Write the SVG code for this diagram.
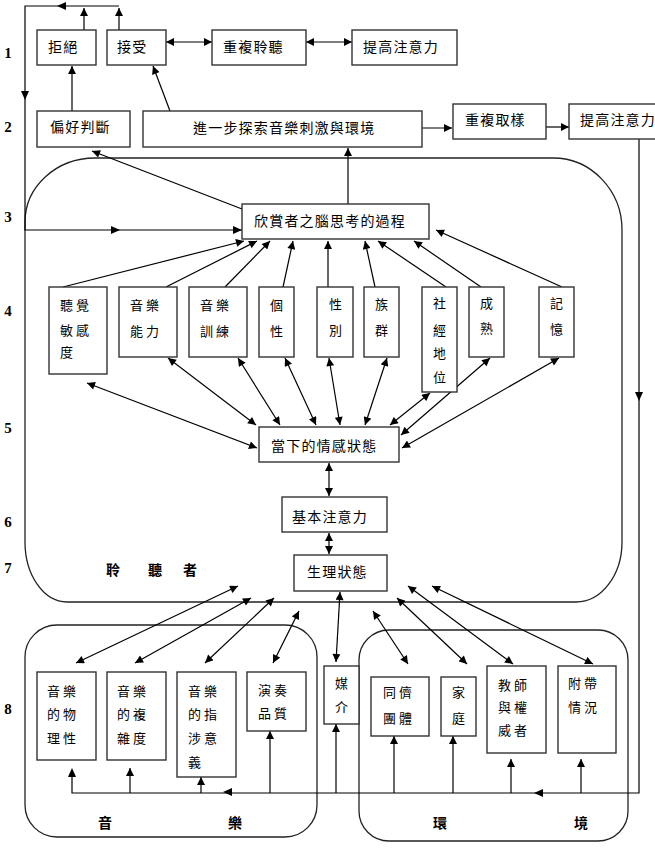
<svg xmlns="http://www.w3.org/2000/svg" width="655" height="849" viewBox="0 0 655 849">
<defs>
<marker id="ah" viewBox="0 0 10 10" refX="10" refY="5" markerWidth="9" markerHeight="8" markerUnits="userSpaceOnUse" orient="auto-start-reverse"><path d="M0,0 L10,5 L0,10 z" fill="#000"/></marker>
<style>
.b{fill:#fff;stroke:#333;stroke-width:1.4}
.g{fill:none;stroke:#222;stroke-width:1.3}
.c{fill:none;stroke:#000;stroke-width:1.2}
.a{marker-end:url(#ah)}
.d{marker-start:url(#ah);marker-end:url(#ah)}
text{font-family:'Noto Sans CJK TC','Noto Sans CJK SC',sans-serif;fill:#000}
.t{font-size:14px;letter-spacing:1.2px}
.s{font-size:13px;letter-spacing:3px}
.m{text-anchor:middle}
.n{font-family:'Liberation Serif',serif;font-weight:bold;font-size:15px;text-anchor:middle}
.L{font-size:14px;font-weight:bold;text-anchor:middle}
</style>
</defs>
<rect width="655" height="849" fill="#fff"/>

<g id="groups">
<path class="g" d="M95,158 H553 A69,72 0 0 1 622,230 V542 A46,60 0 0 1 576,602 H67 A42,60 0 0 1 25,542 V222 A70,64 0 0 1 95,158 Z"/>
<rect class="g" x="25" y="625" width="292" height="212" rx="32" ry="32"/>
<rect class="g" x="359" y="630" width="269" height="211" rx="30" ry="30"/>
</g>

<g id="connectors">
<!-- top feedback -->
<path class="c a" d="M84,30 V8"/>
<path class="c a" d="M119,30 V8"/>
<path class="c" d="M119,6 H25 V230 H242"/>
<polygon points="57,6 66,2 66,10" fill="#000"/>
<polygon points="25,100 21,91 29,91" fill="#000"/>
<polygon points="120,230 111,226 111,234" fill="#000"/>
<polygon points="242,230 233,226 233,234" fill="#000"/>
<path class="c d" d="M166,42 H212"/>
<path class="c d" d="M306,42 H352"/>
<path class="c a" d="M72,111 V66"/>
<path class="c a" d="M170,111 L153,66"/>
<path class="c a" d="M417,128 H452"/>
<path class="c a" d="M546,127 H569"/>
<path class="c a" d="M348,204 V148"/>
<path class="c a" d="M242,209 L92,151"/>
<!-- right feedback -->
<path class="c" d="M639,139 V793 H72 V770"/>
<polygon points="72,768 68,777 76,777" fill="#000"/>
<polygon points="639,401 635,392 643,392" fill="#000"/>
<polygon points="223,792 232,788 232,796" fill="#000"/>
<polygon points="534,793 543,789 543,797" fill="#000"/>
<path class="c a" d="M130,793 V768"/>
<path class="c a" d="M201,793 V777"/>
<path class="c a" d="M270,793 V731"/>
<path class="c a" d="M336,793 V724"/>
<path class="c a" d="M394,793 V736"/>
<path class="c a" d="M453,793 V736"/>
<path class="c a" d="M511,793 V759"/>
<path class="c a" d="M581,793 V759"/>
<!-- level 4 to brain -->
<path class="c a" d="M63,287 L244,241"/>
<path class="c a" d="M166,287 L257,241"/>
<path class="c a" d="M225,287 L270,241"/>
<path class="c a" d="M283,287 L293,241"/>
<path class="c a" d="M328,287 V241"/>
<path class="c a" d="M375,287 L365,241"/>
<path class="c a" d="M446,287 L378,241"/>
<path class="c a" d="M481,287 L414,241"/>
<path class="c a" d="M562,287 L436,230"/>
<!-- level 4 to affect -->
<path class="c d" d="M87,383 L257,448"/>
<path class="c d" d="M168,358 L256,425"/>
<path class="c d" d="M238,358 L280,425"/>
<path class="c d" d="M285,358 L316,425"/>
<path class="c d" d="M329,358 L340,425"/>
<path class="c d" d="M387,358 L365,425"/>
<path class="c d" d="M430,393 L390,425"/>
<path class="c d" d="M490,358 L401,435"/>
<path class="c d" d="M559,358 L402,448"/>
<path class="c d" d="M329,463 V496"/>
<path class="c d" d="M329,533 V554"/>
<!-- physiological to level 8 -->
<path class="c d" d="M238,586 L76,663"/>
<path class="c d" d="M251,598 L135,663"/>
<path class="c d" d="M274,598 L205,663"/>
<path class="c d" d="M299,611 L273,663"/>
<path class="c d" d="M340,592 L336,662"/>
<path class="c d" d="M373,611 L408,664"/>
<path class="c d" d="M397,598 L467,664"/>
<path class="c d" d="M408,586 L513,664"/>
<path class="c d" d="M432,586 L593,664"/>
</g>

<g id="labels">
<text class="n" x="8" y="58">1</text>
<text class="n" x="8" y="132">2</text>
<text class="n" x="8" y="222">3</text>
<text class="n" x="8" y="316">4</text>
<text class="n" x="8" y="433">5</text>
<text class="n" x="8" y="527">6</text>
<text class="n" x="8" y="573">7</text>
<text class="n" x="8" y="714">8</text>
<text class="L" x="113" y="575">聆</text>
<text class="L" x="155" y="575">聽</text>
<text class="L" x="190" y="575">者</text>
<text class="L" x="105" y="828">音</text>
<text class="L" x="235" y="828">樂</text>
<text class="L" x="440" y="828">環</text>
<text class="L" x="581" y="828">境</text>
</g>

<g id="n-reject"><rect class="b" x="37" y="30" width="59" height="35"/><text class="t" x="48" y="52">拒絕</text></g>
<g id="n-accept"><rect class="b" x="107" y="30" width="59" height="35"/><text class="t" x="117" y="52">接受</text></g>
<g id="n-repeat-listen"><rect class="b" x="212" y="30" width="94" height="35"/><text class="t" x="223" y="52">重複聆聽</text></g>
<g id="n-attention1"><rect class="b" x="352" y="30" width="105" height="35"/><text class="t" x="363" y="52">提高注意力</text></g>
<g id="n-preference"><rect class="b" x="37" y="111" width="93" height="36"/><text class="t" x="50" y="132">偏好判斷</text></g>
<g id="n-explore"><rect class="b" x="143" y="111" width="279" height="36"/><text class="t" x="193" y="133">進一步探索音樂刺激與環境</text></g>
<g id="n-resample"><rect class="b" x="453" y="104" width="93" height="35"/><text class="t" x="465" y="125">重複取樣</text></g>
<g id="n-attention2"><rect class="b" x="569" y="104" width="90" height="35"/><text class="t" x="580" y="125">提高注意力</text></g>
<g id="n-brain"><rect class="b" x="242" y="204" width="187" height="35"/><text class="t" x="254" y="226">欣賞者之腦思考的過程</text></g>

<g id="n-auditory"><rect class="b" x="49" y="287" width="58" height="87"/><text class="s" x="60" y="310">聽覺</text><text class="s" x="60" y="335">敏感</text><text class="s" x="60" y="357">度</text></g>
<g id="n-ability"><rect class="b" x="119" y="287" width="58" height="70"/><text class="s" x="130" y="310">音樂</text><text class="s" x="130" y="336">能力</text></g>
<g id="n-training"><rect class="b" x="189" y="287" width="58" height="70"/><text class="s" x="200" y="310">音樂</text><text class="s" x="200" y="336">訓練</text></g>
<g id="n-personality"><rect class="b" x="259" y="287" width="35" height="70"/><text class="s m" x="278" y="310">個</text><text class="s m" x="278" y="336">性</text></g>
<g id="n-gender"><rect class="b" x="317" y="287" width="36" height="70"/><text class="s m" x="337" y="309">性</text><text class="s m" x="337" y="335">別</text></g>
<g id="n-ethnic"><rect class="b" x="364" y="287" width="35" height="70"/><text class="s m" x="383" y="309">族</text><text class="s m" x="383" y="335">群</text></g>
<g id="n-ses"><rect class="b" x="422" y="287" width="35" height="105"/><text class="s m" x="441" y="308">社</text><text class="s m" x="441" y="335">經</text><text class="s m" x="441" y="358">地</text><text class="s m" x="441" y="382">位</text></g>
<g id="n-maturation"><rect class="b" x="469" y="287" width="35" height="70"/><text class="s m" x="488" y="308">成</text><text class="s m" x="488" y="333">熟</text></g>
<g id="n-memory"><rect class="b" x="539" y="287" width="35" height="70"/><text class="s m" x="558" y="308">記</text><text class="s m" x="558" y="334">憶</text></g>

<g id="n-affect"><rect class="b" x="259" y="427" width="140" height="35"/><text class="t" x="271" y="451">當下的情感狀態</text></g>
<g id="n-basic-attention"><rect class="b" x="282" y="497" width="105" height="35"/><text class="t" x="292" y="522">基本注意力</text></g>
<g id="n-physio"><rect class="b" x="294" y="555" width="93" height="36"/><text class="t" x="307" y="577">生理狀態</text></g>

<g id="n-physical"><rect class="b" x="37" y="672" width="59" height="88"/><text class="s" x="47" y="696">音樂</text><text class="s" x="47" y="719">的物</text><text class="s" x="47" y="743">理性</text></g>
<g id="n-complexity"><rect class="b" x="107" y="672" width="59" height="88"/><text class="s" x="117" y="696">音樂</text><text class="s" x="117" y="719">的複</text><text class="s" x="117" y="743">雜度</text></g>
<g id="n-referential"><rect class="b" x="177" y="672" width="59" height="105"/><text class="s" x="188" y="696">音樂</text><text class="s" x="188" y="719">的指</text><text class="s" x="188" y="743">涉意</text><text class="s" x="188" y="767">義</text></g>
<g id="n-performance"><rect class="b" x="247" y="672" width="59" height="59"/><text class="s" x="258" y="695">演奏</text><text class="s" x="258" y="718">品質</text></g>
<g id="n-media"><rect class="b" x="324" y="666" width="35" height="58"/><text class="s m" x="343" y="688">媒</text><text class="s m" x="343" y="712">介</text></g>
<g id="n-peer"><rect class="b" x="371" y="677" width="58" height="59"/><text class="s" x="383" y="697">同儕</text><text class="s" x="383" y="723">團體</text></g>
<g id="n-family"><rect class="b" x="441" y="677" width="35" height="59"/><text class="s m" x="460" y="697">家</text><text class="s m" x="460" y="723">庭</text></g>
<g id="n-educators"><rect class="b" x="487" y="666" width="59" height="87"/><text class="s" x="498" y="690">教師</text><text class="s" x="498" y="712">與權</text><text class="s" x="498" y="735">威者</text></g>
<g id="n-incidental"><rect class="b" x="558" y="666" width="58" height="87"/><text class="s" x="568" y="688">附帶</text><text class="s" x="568" y="712">情況</text></g>
</svg>
